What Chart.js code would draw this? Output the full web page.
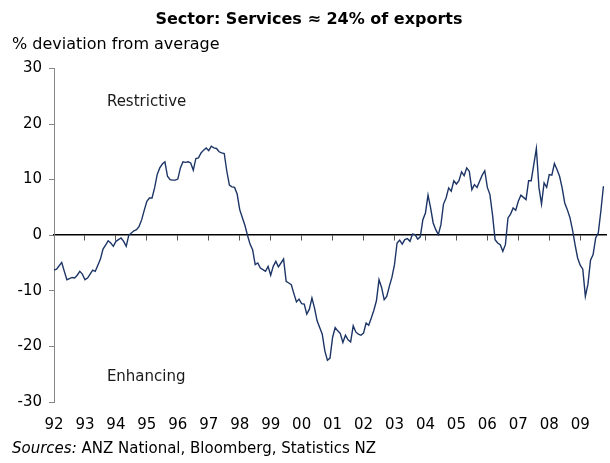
<!DOCTYPE html>
<html>
<head>
<meta charset="utf-8">
<script src="https://cdn.jsdelivr.net/npm/chart.js@4.4.1/dist/chart.umd.min.js"></script>
<style>
  html, body { margin: 0; padding: 0; background: #fff; }
  #wrap { position: relative; width: 610px; height: 463px; }
  #sources {
    position: absolute; left: 12px; top: 439px; margin: 0;
    font: 15px/18px "DejaVu Sans", Verdana, sans-serif; color: #000; white-space: nowrap;
  }
</style>
</head>
<body>
<div id="wrap">
  <canvas id="chart" width="610" height="463"></canvas>
  <p id="sources"><i>Sources:</i> ANZ National, Bloomberg, Statistics NZ</p>
</div>
<script>
// year tick labels, one per January
const yearLabels = ["92", "93", "94", "95", "96", "97", "98", "99", "00",
  "01", "02", "03", "04", "05", "06", "07", "08", "09"];
const monthNames = ["Jan", "Feb", "Mar", "Apr", "May", "Jun",
  "Jul", "Aug", "Sep", "Oct", "Nov", "Dec"];

// % deviation from average, monthly, Jan 1992 - Oct 2009
const deviation = [
  -6.3, -6.1, -5.5, -4.9, -6.5, -8.0, -7.8, -7.6, -7.7, -7.2, -6.5, -7.0,
  -8.0, -7.7, -7.0, -6.3, -6.5, -5.4, -4.3, -2.5, -1.8, -1.0, -1.4, -2.0,
  -1.1, -0.8, -0.5, -1.1, -2.0, 0.0, 0.4, 0.8, 1.0, 1.6, 2.8, 4.5,
  6.1, 6.7, 6.7, 8.5, 10.9, 12.1, 12.8, 13.2, 10.6, 10.0, 9.9, 9.9,
  10.1, 12.1, 13.2, 13.1, 13.2, 13.0, 11.7, 13.8, 13.9, 14.8, 15.3, 15.7,
  15.2, 16.0, 15.7, 15.6, 15.0, 14.8, 14.7, 11.5, 9.0, 8.7, 8.6, 7.4,
  4.6, 3.2, 1.8, 0.0, -1.6, -2.6, -5.3, -5.0, -5.9, -6.2, -6.5, -5.6,
  -7.2, -5.6, -4.7, -5.7, -5.0, -4.3, -8.3, -8.6, -8.9, -10.5, -12.0, -11.5,
  -12.3, -12.4, -14.2, -13.3, -11.3, -13.1, -15.4, -16.6, -17.8, -20.8, -22.5, -22.1,
  -18.4, -16.6, -17.2, -17.7, -19.3, -18.0, -18.8, -19.2, -16.3, -17.4, -17.8, -18.0,
  -17.6, -15.8, -16.2, -14.9, -13.5, -11.8, -8.0, -9.4, -11.6, -11.0, -9.2, -7.6,
  -5.3, -1.4, -0.9, -1.6, -0.8, -0.6, -1.1, 0.2, 0.1, -0.7, -0.3, 2.8,
  4.0, 7.2, 4.9, 2.2, 1.0, 0.1, 1.9, 5.6, 6.7, 8.5, 7.9, 9.8,
  9.2, 9.8, 11.4, 10.7, 12.1, 11.5, 8.2, 9.1, 8.6, 9.7, 10.8, 11.6,
  8.6, 7.3, 3.7, -0.8, -1.4, -1.7, -2.9, -1.7, 3.1, 3.8, 4.9, 4.5,
  6.1, 7.2, 6.8, 6.4, 9.8, 9.8, 12.7, 15.6, 8.6, 5.6, 9.4, 8.6,
  10.9, 10.8, 12.9, 11.8, 10.6, 8.5, 5.8, 4.6, 3.2, 1.0, -1.7, -4.1,
  -5.4, -6.1, -11.0, -8.8, -4.5, -3.5, -0.5, 0.4, 4.3, 8.8
];

const annotations = [
  { text: "Restrictive", x: 20.5, y: 24 },
  { text: "Enhancing", x: 20.5, y: -25.5 },
];

// month labels, with one spare month so the axis runs a bit past the last point
const labels = [];
yearLabels.forEach((yr) => {
  monthNames.forEach((mn) => labels.push(mn + " " + yr));
});
labels.length = deviation.length + 1;

const FONT = '"DejaVu Sans", Verdana, sans-serif';
Chart.defaults.font.family = FONT;
Chart.defaults.font.size = 15;
Chart.defaults.color = "#000";

const textLabels = {
  id: "textLabels",
  afterDraw(chart) {
    const { ctx, scales } = chart;
    ctx.save();
    ctx.font = "15px " + FONT;
    ctx.fillStyle = "#1a1a1a";
    ctx.textAlign = "left";
    ctx.textBaseline = "middle";
    annotations.forEach((a) => {
      ctx.fillText(a.text, scales.x.getPixelForValue(a.x), scales.y.getPixelForValue(a.y));
    });
    ctx.restore();
  },
};

new Chart(document.querySelector("#chart"), {
  type: "line",
  data: {
    labels: labels,
    datasets: [
      {
        data: deviation,
        borderColor: "#1c3566",
        borderWidth: 1.4,
        pointRadius: 0,
        tension: 0,
        fill: false,
      },
    ],
  },
  options: {
    responsive: false,
    animation: false,
    layout: { padding: { left: 12, right: 4, top: 0, bottom: 15 } },
    plugins: {
      legend: { display: false },
      tooltip: { enabled: false },
      title: {
        display: true,
        text: "Sector: Services \u2248 24% of exports",
        font: { size: 16, weight: "bold" },
        padding: { top: 10, bottom: 0 },
      },
      subtitle: {
        display: true,
        text: "% deviation from average",
        align: "start",
        font: { size: 16 },
        padding: { top: 6, bottom: 14 },
      },
    },
    scales: {
      x: {
        ticks: {
          autoSkip: false,
          maxRotation: 0,
          padding: 14,
          callback: (v, i) => (i % 12 === 0 ? yearLabels[i / 12] : ""),
        },
        grid: { display: false, drawTicks: false },
        border: { display: false },
        afterFit: (s) => { s.paddingLeft = 0; s.paddingRight = 0; },
      },
      zero: {
        type: "category",
        axis: "x",
        position: { y: 0 },
        ticks: { display: false, autoSkip: false },
        grid: {
          drawOnChartArea: false,
          drawTicks: true,
          tickLength: 5,
          color: (c) => (c.index % 12 === 0 ? "#555" : "rgba(0,0,0,0)"),
        },
        border: { color: "#000", width: 1.5 },
      },
      y: {
        min: -30,
        max: 30,
        ticks: { stepSize: 10, padding: 7 },
        grid: { drawOnChartArea: false, tickLength: 5, color: "#868686" },
        border: { color: "#868686" },
        afterFit: (s) => { s.width = 42; },
      },
    },
  },
  plugins: [textLabels],
});
</script>
</body>
</html>
